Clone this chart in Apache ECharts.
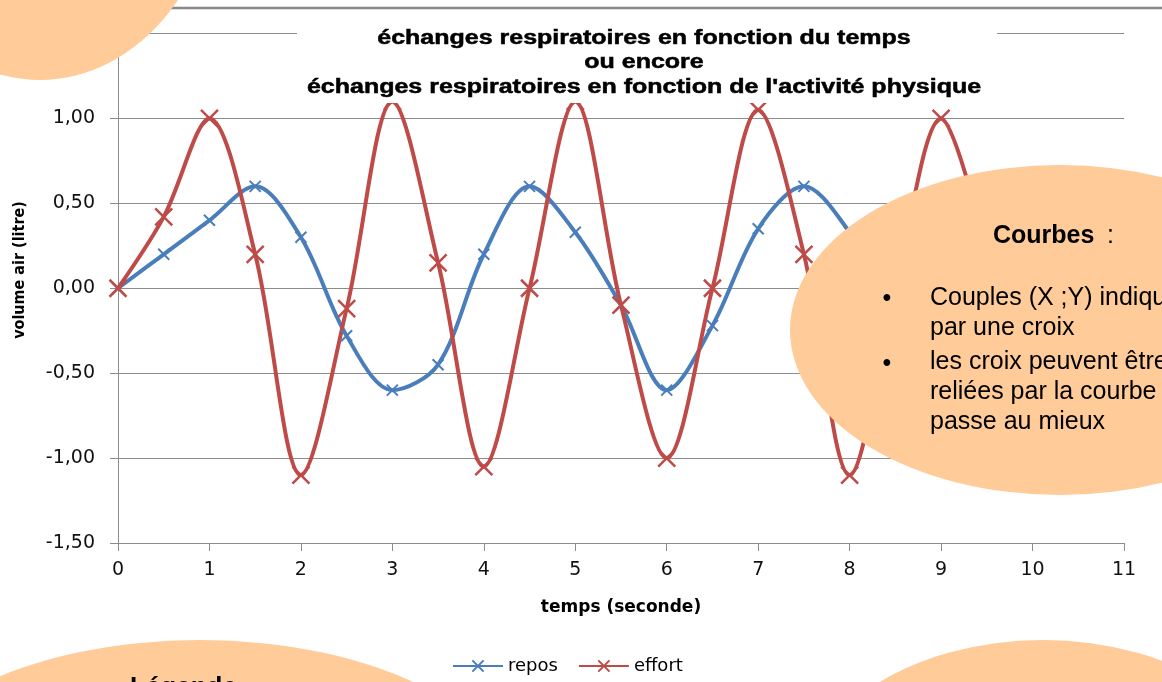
<!DOCTYPE html>
<html>
<head>
<meta charset="utf-8">
<script src="https://cdn.jsdelivr.net/npm/echarts@6/dist/echarts.min.js"></script>
<style>
html, body { margin: 0; padding: 0; background: #fff; }
#chart { width: 1162px; height: 682px; }
</style>
</head>
<body>
<div id="chart"></div>
<script>
// temps (s), un point toutes les 0,5 s
let temps = [0, 0.5, 1, 1.5, 2, 2.5, 3, 3.5, 4, 4.5, 5, 5.5, 6, 6.5, 7, 7.5, 8, 8.5, 9, 9.5]
// volume d'air (litre)
let repos = [0, 0.2, 0.4, 0.6, 0.3, -0.28, -0.6, -0.45, 0.2, 0.6, 0.33, -0.1, -0.6, -0.22, 0.35, 0.6, 0.33, -0.1, -0.6]
let effort = [0, 0.42, 1.0, 0.2, -1.1, -0.12, 1.1, 0.15, -1.05, 0, 1.1, -0.1, -1.0, 0, 1.05, 0.2, -1.1, 0, 1.0, 0.2]
let titre = [
    "échanges respiratoires en fonction du temps",
    "ou encore",
    "échanges respiratoires en fonction de l'activité physique",
]
let courbesTexte = [
    "Couples (X ;Y) indiqués",
    "par une croix",
    "les croix peuvent être",
    "reliées par la courbe qui",
    "passe au mieux",
]

let chart = echarts.init(document.getElementById("chart"))

const croix = "path://M0,0L10,10M10,0L0,10"
const bleu = "#4a7ebb"
const rouge = "#be4b48"
const peche = "#fecb99"
const gris = "#8c8c8c"
const police = '"Liberation Sans", Arial, sans-serif'

function points(valeurs) {
    return valeurs.map((v, i) => [temps[i], v])
}

// bulles orange par-dessus le graphique
function bulle(cx, cy, a, b) {
    return {
        type: "circle",
        x: cx, y: cy,
        scaleY: b / a,
        shape: { cx: 0, cy: 0, r: a },
        style: { fill: peche },
        z: 100,
    }
}

let lignesTitre = titre.map((t, i) => ({
    type: "text",
    x: 644, y: 38 + i * 24.5,
    scaleX: 1.25,
    style: {
        text: t, font: "bold 20px " + police, fill: "#000",
        stroke: "#000", lineWidth: 0.5,
        textAlign: "center", textVerticalAlign: "middle",
    },
    z: 51,
}))

let lignesCourbes = courbesTexte.map((t, i) => ({
    type: "text",
    x: 930, y: 298 + i * 30 + (i >= 2 ? 4 : 0),
    style: { text: t, font: "25px " + police, fill: "#000", textVerticalAlign: "middle" },
    z: 101,
}))

let option = {
    backgroundColor: "#fff",
    animation: false,
    grid: { left: 118, right: 38, top: 33.5, bottom: 139 },
    legend: {
        left: 447, top: 652,
        itemWidth: 50, itemHeight: 14, itemGap: 20,
        textStyle: { fontFamily: "DejaVu Sans", fontSize: 18, color: "#000" },
        data: ["repos", "effort"],
    },
    xAxis: {
        type: "value",
        min: 0, max: 11, interval: 1,
        name: "temps (seconde)",
        nameLocation: "middle",
        nameGap: 56,
        nameTextStyle: { fontFamily: "DejaVu Sans", fontWeight: "bold", fontSize: 17, color: "#000" },
        axisLine: { onZero: false, lineStyle: { color: gris, width: 1 } },
        axisTick: { show: true, length: 8, lineStyle: { color: gris } },
        axisLabel: { margin: 18, fontFamily: "DejaVu Sans", fontSize: 19, color: "#111" },
        splitLine: { show: false },
    },
    yAxis: {
        type: "value",
        min: -1.5, max: 1.5, interval: 0.5,
        axisLine: { show: true, lineStyle: { color: gris, width: 1 } },
        axisTick: { show: true, length: 8, lineStyle: { color: gris } },
        axisLabel: {
            margin: 23, fontFamily: "DejaVu Sans", fontSize: 19, color: "#111",
            formatter: (v) => v.toFixed(2).replace(".", ","),
        },
        splitLine: { lineStyle: { color: gris, width: 1 } },
    },
    series: [
        {
            name: "repos",
            type: "line",
            data: points(repos),
            smooth: 0.33,
            symbol: croix,
            symbolSize: 11,
            lineStyle: { color: bleu, width: 4 },
            itemStyle: { color: bleu, borderColor: bleu, borderWidth: 2 },
        },
        {
            name: "effort",
            type: "line",
            data: points(effort),
            smooth: 0.33,
            symbol: croix,
            symbolSize: 17,
            lineStyle: { color: rouge, width: 4 },
            itemStyle: { color: rouge, borderColor: rouge, borderWidth: 2.5 },
        },
    ],
    graphic: [
        // bord haut du cadre
        { type: "line", shape: { x1: 0, y1: 8, x2: 1162, y2: 8 }, style: { stroke: "#888", lineWidth: 2.5 }, z: 40 },
        // fond blanc du titre
        { type: "rect", shape: { x: 297, y: 22, width: 700, height: 81 }, style: { fill: "#fff" }, z: 50 },
        ...lignesTitre,
        {
            type: "text", x: 20, y: 270, rotation: Math.PI / 2,
            style: { text: "volume air (litre)", font: 'bold 16px "Liberation Sans Narrow", "DejaVu Sans Condensed", sans-serif', fill: "#000", textAlign: "center", textVerticalAlign: "middle" },
            z: 60,
        },
        bulle(40, -150, 182, 230),
        bulle(1060, 330, 270, 165),
        bulle(200, 805, 320, 165),
        bulle(1043, 805, 245, 165),
        { type: "text", x: 993, y: 236, style: { text: "Courbes", font: "bold 25px " + police, fill: "#000", textVerticalAlign: "middle" }, z: 101 },
        { type: "text", x: 1100, y: 236, style: { text: " :", font: "25px " + police, fill: "#000", textVerticalAlign: "middle" }, z: 101 },
        { type: "text", x: 887, y: 299, style: { text: "•", font: "25px " + police, fill: "#000", textAlign: "center", textVerticalAlign: "middle" }, z: 101 },
        { type: "text", x: 887, y: 364, style: { text: "•", font: "25px " + police, fill: "#000", textAlign: "center", textVerticalAlign: "middle" }, z: 101 },
        ...lignesCourbes,
        { type: "text", x: 130, y: 675, style: { text: "Légende :", font: "bold 26px " + police, fill: "#000" }, z: 101 },
    ],
}

chart.setOption(option)
</script>
</body>
</html>
